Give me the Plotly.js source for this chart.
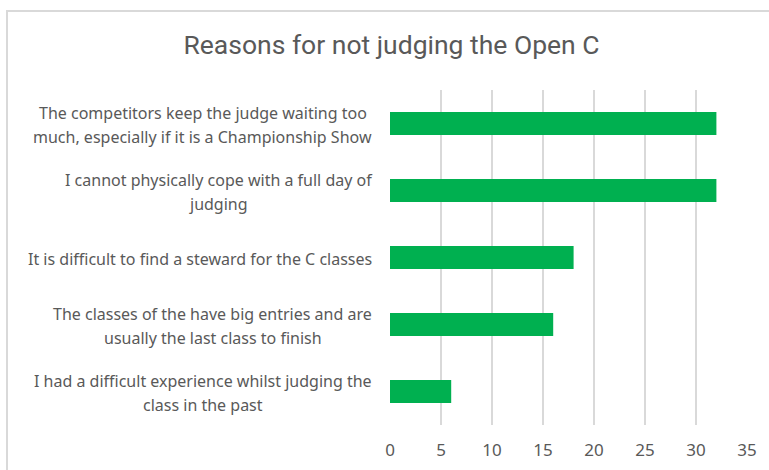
<!DOCTYPE html>
<html>
<head>
<meta charset="utf-8">
<script src="https://cdn.plot.ly/plotly-3.0.1.min.js"></script>
<style>
  html, body { margin: 0; padding: 0; background: #ffffff; }
  #wrap { position: relative; width: 769px; height: 470px; overflow: hidden; }
  #chart { width: 769px; height: 470px; }
  #frame { position: absolute; left: 6px; top: 10px; width: 800px; height: 500px;
           border-left: 2px solid #d9d9d9; border-top: 2px solid #d9d9d9; pointer-events: none; }
</style>
</head>
<body>
<div id="wrap">
  <div id="chart"></div>
  <div id="frame"></div>
</div>
<script>
const chartTitle = "Reasons for not judging the Open C";
const categories = [
  "The competitors keep the judge waiting too<br>much, especially if it is a Championship Show",
  "I cannot physically cope with a full day of<br>judging",
  "It is difficult to find a steward for the C classes",
  "The classes of the have big entries and are<br>usually the last class to finish",
  "I had a difficult experience whilst judging the<br>class in the past"
];
const values = [32, 32, 18, 16, 6];
const xTickVals = [0, 5, 10, 15, 20, 25, 30, 35];

const labelFamily = "Noto Sans";
const labelSize = 16;
const labelColor = "#595959";
const gapToAxis = 18;
const lineGap = 24;

const cnv = document.createElement("canvas");
const ctx = cnv.getContext("2d");
ctx.font = labelSize + "px '" + labelFamily + "'";

const annotations = [];
categories.forEach(function (cat) {
  const lines = cat.split("<br>");
  const widths = lines.map(function (s) { return ctx.measureText(s).width; });
  const maxW = Math.max.apply(null, widths);
  const n = lines.length;
  lines.forEach(function (line, i) {
    const offset = ((n - 1) / 2 - i) * lineGap - 1;
    annotations.push({
      x: 0, xref: "paper", y: cat, yref: "y",
      text: line, showarrow: false,
      xanchor: "center", yanchor: "middle",
      xshift: -(gapToAxis + maxW / 2),
      yshift: offset,
      font: { family: labelFamily, size: labelSize, color: labelColor }
    });
  });
});

const trace = {
  type: "bar",
  orientation: "h",
  x: values,
  y: categories,
  marker: { color: "#00B050" },
  hoverinfo: "x"
};

const layout = {
  width: 769, height: 470,
  margin: { l: 390, r: 22, t: 90, b: 45, pad: 0 },
  paper_bgcolor: "#ffffff", plot_bgcolor: "#ffffff",
  showlegend: false,
  bargap: 0.66,
  title: {
    text: chartTitle,
    x: 391.5 / 769, xanchor: "center", xref: "container",
    y: 1 - 45 / 470, yanchor: "middle", yref: "container",
    font: { family: "Roboto, Liberation Sans, sans-serif", size: 26.5, color: "#595959" }
  },
  xaxis: {
    range: [0, 35],
    tickvals: xTickVals,
    showgrid: true, gridcolor: "#d9d9d9", gridwidth: 1.5,
    zeroline: false, showline: false, ticks: "",
    ticklabelstandoff: 13,
    tickfont: { family: labelFamily, size: 17, color: labelColor },
    fixedrange: true
  },
  yaxis: {
    autorange: "reversed",
    showticklabels: false,
    showgrid: false, zeroline: false, showline: false, ticks: "",
    fixedrange: true
  },
  annotations: annotations
};

Plotly.newPlot("chart", [trace], layout, { displayModeBar: false, staticPlot: true });
</script>
</body>
</html>
